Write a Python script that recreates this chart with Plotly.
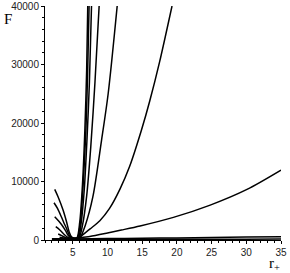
import plotly.graph_objects as go

# Curves: (r_plus, F) pairs, one list per curve
curve1_x = [2.4, 2.88, 3.6, 4.1, 4.47, 4.81, 5.2, 5.6, 6.0, 6.4, 6.75, 7.0, 7.16]
curve1_y = [8650, 7390, 5120, 3120, 1420, 560, 300, 350, 3000, 9500, 19000, 29000, 40000]

curve2_x = [2.3, 2.8, 3.35, 3.7, 4.09, 4.57, 5.0, 5.4, 5.7, 6.1, 6.5, 6.9, 7.15, 7.35]
curve2_y = [6370, 5400, 3980, 3000, 2000, 680, 300, 280, 400, 3000, 9500, 19000, 29000, 40000]

curve3_x = [2.4, 3.0, 3.6, 4.0, 4.3, 4.7, 5.2, 5.8, 6.2, 6.65, 7.05, 7.4, 7.7]
curve3_y = [3980, 3200, 2270, 1500, 850, 400, 280, 350, 2800, 8500, 17200, 27000, 40000]

curve4_x = [2.55, 3.1, 3.6, 4.1, 4.5, 5.0, 5.5, 5.9, 6.4, 7.0, 7.6, 8.2, 8.8]
curve4_y = [2270, 1750, 1140, 600, 350, 260, 250, 350, 2500, 7500, 16000, 27000, 40000]

curve5_x = [2.9, 3.4, 3.9, 4.4, 5.0, 5.5, 6.0, 6.8, 7.9, 9.14, 10.1, 11.4]
curve5_y = [1020, 750, 450, 300, 230, 230, 320, 2500, 7400, 17000, 25000, 40000]

curve6_x = [3.1, 3.7, 4.4, 5.0, 5.5, 5.9, 6.25, 7.5, 8.9, 10.3, 11.8, 13.2, 14.9, 16.1, 17.5, 19.3]
curve6_y = [460, 330, 250, 220, 240, 350, 700, 1900, 3300, 5400, 8700, 12600, 18800, 23800, 30400, 40000]

curve7_x = [2.0, 3.5, 5.0, 6.0, 7.45, 10.0, 12.0, 14.7, 19.5, 24.8, 30.1, 35.0]
curve7_y = [200, 220, 260, 380, 600, 1200, 1700, 2400, 3870, 5970, 8650, 11950]

curve8_x = [2.0, 5.0, 10.0, 15.0, 20.0, 25.0, 30.0, 35.0]
curve8_y = [150, 180, 240, 300, 360, 430, 500, 560]

curve9_x = [2.0, 5.0, 10.0, 15.0, 20.0, 25.0, 30.0, 35.0]
curve9_y = [100, 110, 120, 130, 135, 140, 145, 150]

curves = [
    (curve1_x, curve1_y), (curve2_x, curve2_y), (curve3_x, curve3_y),
    (curve4_x, curve4_y), (curve5_x, curve5_y), (curve6_x, curve6_y),
    (curve7_x, curve7_y), (curve8_x, curve8_y), (curve9_x, curve9_y),
]

x_ticks = [5, 10, 15, 20, 25, 30, 35]
y_ticks = [0, 10000, 20000, 30000, 40000]

fig = go.Figure()
for cx, cy in curves:
    fig.add_trace(go.Scatter(x=cx, y=cy, mode="lines",
                             line=dict(color="black", width=1.5, shape="spline", smoothing=0.8),
                             showlegend=False, hoverinfo="skip", cliponaxis=True))

tickfont = dict(family="Liberation Sans, Arial, sans-serif", size=10, color="#222")
fig.update_layout(
    width=290, height=273,
    margin=dict(l=45, r=9, t=6, b=33),
    paper_bgcolor="white", plot_bgcolor="white",
    xaxis=dict(range=[1, 35], tickvals=x_ticks, ticktext=[str(v) for v in x_ticks],
               showgrid=False, zeroline=False, showline=True, linecolor="black", linewidth=1,
               ticks="outside", ticklen=3, tickcolor="black", tickfont=tickfont,
               minor=dict(dtick=1, ticks="outside", ticklen=2, tickcolor="black"),
               automargin=False, fixedrange=True),
    yaxis=dict(range=[0, 40000], tickvals=y_ticks, ticktext=[str(v) for v in y_ticks],
               showgrid=False, zeroline=False, showline=True, linecolor="black", linewidth=1,
               ticks="outside", ticklen=3, tickcolor="black", tickfont=tickfont,
               minor=dict(dtick=2000, ticks="outside", ticklen=2, tickcolor="black"),
               automargin=False, fixedrange=True),
    annotations=[
        dict(text="F", xref="paper", yref="paper", x=-45/236, y=1,
             xanchor="left", yanchor="top", xshift=2, yshift=-3, showarrow=False,
             font=dict(family="Liberation Serif, Times New Roman, serif", size=15, color="black")),
        dict(text="r<sub>+</sub>", xref="paper", yref="paper", x=(267-45)/236, y=0,
             xanchor="left", yanchor="top", yshift=-13, showarrow=False,
             font=dict(family="Liberation Serif, Times New Roman, serif", size=15, color="black")),
    ],
)

fig.write_html("out.html", config={"displayModeBar": False},
               post_script="document.body.style.margin='0';document.body.style.overflow='hidden';")
